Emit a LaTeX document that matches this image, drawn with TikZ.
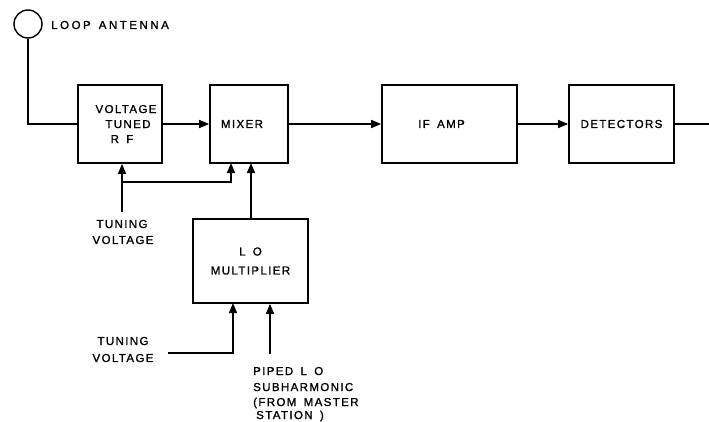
\documentclass[tikz,border=0pt]{standalone}
\usepackage{fontspec}
\setmainfont{Liberation Sans}[LetterSpace=12,FakeBold=1.3,WordSpace=1.6]
\newfontfamily\widefont{Liberation Sans}[LetterSpace=22,FakeBold=1.3,WordSpace=1.4]
\usetikzlibrary{arrows.meta}
\begin{document}
\begin{tikzpicture}[x=1pt,y=-1pt,
  blk/.style={draw,line width=1.7pt,inner sep=0pt,font=\fontsize{11.5}{15}\selectfont,align=center},
  lbl/.style={font=\fontsize{11.5}{15.5}\selectfont,inner sep=0pt},
  wire/.style={line width=1.3pt},
  arr/.style={wire,-{Triangle[length=10pt,width=8pt]}}]
\useasboundingbox (0,0) rectangle (709,421);
% antenna
\node[draw,circle,line width=1.4pt,minimum size=28pt,inner sep=0pt] (ant) at (28,24) {};
\node[lbl,anchor=west,font=\widefont\fontsize{11.5}{14}\selectfont] (antl) at (51,25) {LOOP ANTENNA};
% blocks
\node[blk,minimum width=84pt,minimum height=78pt] (rf) at (120,124) {\hspace{12pt}VOLTAGE\\\hspace{16pt}TUNED\\\hspace{4pt}R F};
\node[blk,minimum width=78pt,minimum height=78pt] (mix) at (249,124) {MIXER\hspace{14pt}};
\node[blk,minimum width=135pt,minimum height=78pt] (if) at (449.5,124) {IF AMP\hspace{16pt}};
\node[blk,minimum width=105pt,minimum height=78pt] (det) at (621.5,124) {DETECTORS};
\node[blk,minimum width=115pt,minimum height=84pt,font=\fontsize{11.5}{19}\selectfont] (lo) at (250.5,261) {L O\\MULTIPLIER};
% coordinates
\coordinate (out) at (709,124);
\coordinate (t1) at (122,212);
\coordinate (br) at (122,182);
\coordinate (t2) at (168,353);
\coordinate (pp) at (270,354);
% labels
\node[lbl] (tv1a) at (122,224) {TUNING};
\node[lbl] (tv1b) at (123,240) {VOLTAGE};
\node[lbl] (tv2a) at (123,341) {TUNING};
\node[lbl] (tv2b) at (123,358) {VOLTAGE};
\node[lbl,anchor=base west] (pip1) at (253,375) {PIPED L O};
\node[lbl,anchor=base west] (pip2) at (253,391) {SUBHARMONIC};
\node[lbl,anchor=base west] (pip3) at (253,406) {(FROM MASTER};
\node[lbl,anchor=base west] (pip4) at (256,419) {STATION )};
% connections
\draw[wire] (ant.south) |- (rf.west);
\draw[arr] (rf.east) -- (mix.west);
\draw[arr] (mix.east) -- (if.west);
\draw[arr] (if.east) -- (det.west);
\draw[wire] (det.east) -- (out);
\draw[arr] (t1) -- (t1 |- rf.south);
\draw[arr] (br) -| (231,163);
\draw[arr] (lo.north -| 251,0) -- (251,163);
\draw[arr] (t2) -| (233,303);
\draw[arr] (pp) -- (pp |- lo.south);
\end{tikzpicture}
\end{document}
